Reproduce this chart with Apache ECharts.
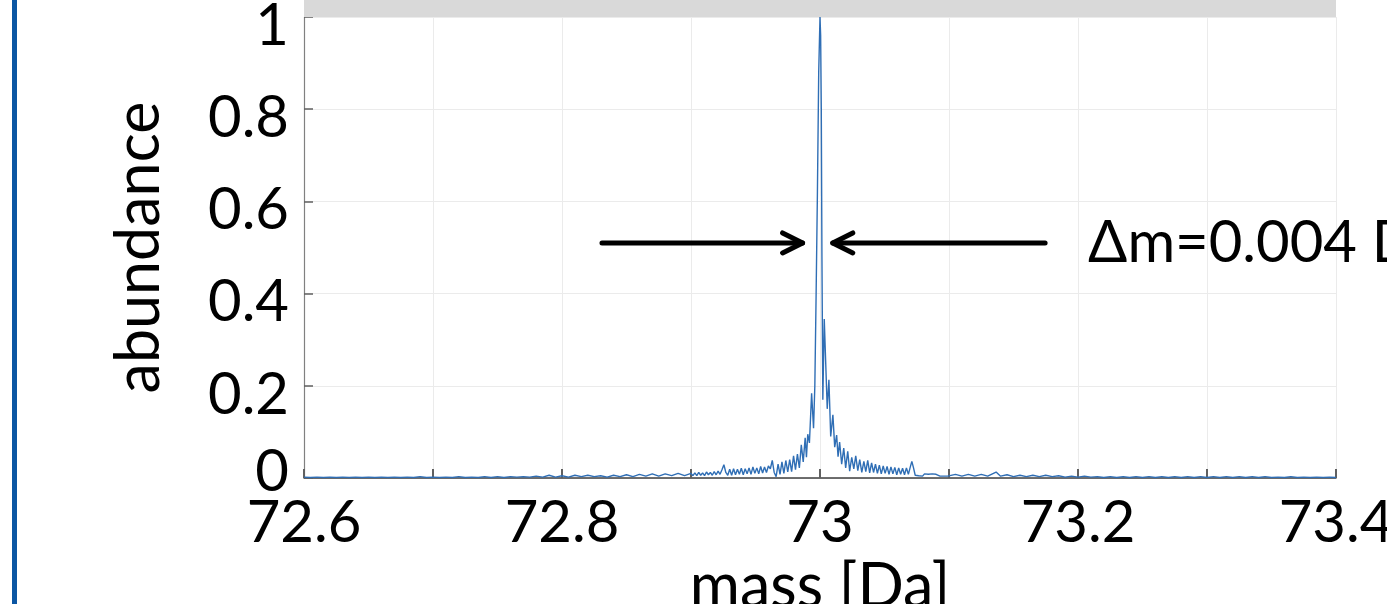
<!DOCTYPE html>
<html>
<head>
<meta charset="utf-8">
<script src="https://cdn.jsdelivr.net/npm/echarts@6/dist/echarts.min.js"></script>
<style>
  html, body { margin: 0; padding: 0; background: #ffffff; }
  #chart { width: 1387px; height: 604px; }
</style>
</head>
<body>
<div id="chart"></div>
<script>
// Mass spectrum around m/z 73: [mass (Da), normalised abundance]
const leftTail = [
  [72.600,0.002],[72.605,0.001],[72.610,0.002],[72.615,0.001],[72.620,0.002],[72.625,0.001],
  [72.630,0.002],[72.635,0.001],[72.640,0.002],[72.645,0.001],[72.650,0.002],[72.655,0.001],
  [72.660,0.002],[72.665,0.001],[72.670,0.002],[72.675,0.001],[72.680,0.002],[72.685,0.001],
  [72.690,0.003],[72.695,0.001],[72.700,0.002],[72.705,0.001],[72.710,0.002],[72.715,0.001],
  [72.720,0.003],[72.725,0.001],[72.730,0.002],[72.735,0.001],[72.740,0.003],[72.745,0.001],
  [72.750,0.003],[72.755,0.001],[72.760,0.003],[72.765,0.002],[72.770,0.003],[72.775,0.002],
  [72.780,0.004],[72.785,0.002],[72.790,0.006],[72.795,0.002],[72.800,0.005],[72.805,0.002],
  [72.810,0.006],[72.815,0.003],[72.820,0.006],[72.825,0.003],[72.830,0.005],[72.835,0.002],
  [72.840,0.006],[72.845,0.003],[72.850,0.007],[72.855,0.003],[72.860,0.008],[72.865,0.004],
  [72.870,0.009],[72.875,0.004],[72.880,0.009],[72.885,0.005],[72.890,0.010],[72.895,0.005]
];
const leftWing = [
  [72.9000,0.010],[72.9015,0.005],[72.9030,0.011],[72.9045,0.005],[72.9060,0.012],[72.9075,0.006],
  [72.9090,0.011],[72.9105,0.005],[72.9120,0.013],[72.9135,0.007],[72.9150,0.012],[72.9165,0.006],
  [72.9180,0.014],[72.9195,0.007],[72.9210,0.015],[72.9225,0.008],[72.9240,0.018],[72.9255,0.029],
  [72.9270,0.012],[72.9285,0.006],[72.9300,0.019],[72.9315,0.006],[72.9330,0.020],[72.9345,0.007],
  [72.9360,0.019],[72.9375,0.008],[72.9390,0.021],[72.9405,0.007],[72.9420,0.020],[72.9435,0.009],
  [72.9450,0.022],[72.9465,0.008],[72.9480,0.024],[72.9495,0.010],[72.9510,0.022],[72.9525,0.009],
  [72.9540,0.025],[72.9555,0.011],[72.9570,0.024],[72.9585,0.012],[72.9600,0.026],[72.9615,0.020],
  [72.9630,0.038],[72.9645,0.012],[72.9660,0.003],[72.9675,0.030],[72.9690,0.008],[72.9705,0.035],
  [72.9720,0.010],[72.9735,0.038],[72.9750,0.013],[72.9765,0.040],[72.9780,0.014],[72.9795,0.048],
  [72.9810,0.018],[72.9825,0.052],[72.9840,0.022],[72.9855,0.072],[72.9870,0.035],[72.9885,0.087],
  [72.9895,0.045],[72.9905,0.095],[72.9918,0.076],[72.9935,0.184],[72.9950,0.108]
];
const mainPeak = [
  [72.9960,0.20],[72.9970,0.40],[72.9980,0.62],[72.9990,0.88],[73.0000,1.00],
  [73.0005,0.96],[73.0010,0.80],[73.0015,0.48],[73.0022,0.17]
];
const rightWing = [
  [73.0033,0.345],[73.0056,0.150],[73.0069,0.213],[73.0083,0.090],[73.0100,0.137],[73.0114,0.067],
  [73.0129,0.093],[73.0140,0.046],[73.0152,0.078],[73.0168,0.030],[73.0184,0.065],[73.0199,0.022],
  [73.0215,0.058],[73.0230,0.015],[73.0246,0.045],[73.0262,0.020],[73.0277,0.048],[73.0293,0.016],
  [73.0308,0.040],[73.0324,0.012],[73.0340,0.036],[73.0355,0.014],[73.0370,0.038],[73.0385,0.011],
  [73.0400,0.033],[73.0415,0.012],[73.0430,0.030],[73.0445,0.010],[73.0460,0.028],[73.0475,0.009],
  [73.0490,0.026],[73.0505,0.010],[73.0520,0.025],[73.0535,0.008],[73.0550,0.024],[73.0565,0.009],
  [73.0580,0.023],[73.0595,0.007],[73.0610,0.022],[73.0625,0.008],[73.0640,0.021],[73.0655,0.007],
  [73.0670,0.022],[73.0685,0.008],[73.0700,0.024],[73.0712,0.036],[73.0725,0.022],[73.0738,0.006],
  [73.0750,0.009],[73.0765,0.005],[73.0780,0.008],[73.0795,0.004],[73.0810,0.009],[73.0825,0.005],
  [73.0840,0.008],[73.0855,0.004],[73.0870,0.009],[73.0885,0.005],[73.0900,0.008]
];
const rightTail = [
  [73.0915,0.009],[73.0930,0.004],[73.0945,0.008],[73.0960,0.004],[73.0975,0.008],[73.0990,0.004],
  [73.105,0.008],[73.110,0.004],[73.115,0.008],[73.120,0.004],[73.125,0.008],[73.130,0.004],
  [73.1365,0.013],[73.140,0.004],[73.145,0.007],[73.150,0.003],[73.155,0.006],[73.160,0.003],
  [73.165,0.006],[73.170,0.003],[73.175,0.006],[73.180,0.003],[73.185,0.005],[73.190,0.002],
  [73.195,0.004],[73.200,0.002],[73.205,0.004],[73.210,0.002],[73.215,0.003],[73.220,0.001],
  [73.225,0.003],[73.230,0.001],[73.235,0.003],[73.240,0.001],[73.245,0.003],[73.250,0.001],
  [73.255,0.003],[73.260,0.001],[73.265,0.003],[73.270,0.001],[73.275,0.003],[73.280,0.001],
  [73.285,0.003],[73.290,0.001],[73.295,0.003],[73.300,0.001],[73.305,0.003],[73.310,0.001],
  [73.315,0.003],[73.320,0.001],[73.325,0.003],[73.330,0.001],[73.335,0.003],[73.340,0.001],
  [73.345,0.003],[73.350,0.001],[73.355,0.002],[73.360,0.001],[73.365,0.003],[73.370,0.001],
  [73.375,0.002],[73.380,0.001],[73.385,0.002],[73.390,0.001],[73.395,0.002],[73.400,0.001]
];

// Axis ranges and labels
const massRange = [72.6, 73.4];
const massStep = 0.1;
const abundanceRange = [0, 1];
const abundanceStep = 0.2;

// Resolution annotation: arrows near half maximum, pointing at the peak flanks
const arrowLevel = 0.51;
const arrowTips = [72.9865, 73.0099];
const arrowTails = [72.8310, 73.1745];
const resolutionText = '\u0394m=0.004 Da';
const resolutionTextMass = 73.2078;

const FONT = 'Lato, "Noto Sans", sans-serif';
const FS = 58;
const NAME_FS = 61;
const GRID = { left: 304, right: 51, top: 17, bottom: 126 };

const spectrum = [].concat(leftTail, leftWing, mainPeak, rightWing, rightTail);

const chart = echarts.init(document.getElementById('chart'), null, { renderer: 'canvas' });

chart.setOption({
  animation: false,
  backgroundColor: '#ffffff',
  grid: { left: GRID.left, right: GRID.right, top: GRID.top, bottom: GRID.bottom, containLabel: false, outerBoundsMode: 'none' },
  graphic: [
    // panel accent bar on the far left
    { type: 'rect', shape: { x: 12, y: 0, width: 5, height: 604 }, style: { fill: '#0b56a3' }, z: 10 },
    // grey title strip above the plot area
    { type: 'rect', shape: { x: GRID.left, y: 0, width: 1387 - GRID.left - GRID.right, height: GRID.top }, style: { fill: '#d9d9d9' }, z: 10 }
  ],
  xAxis: {
    type: 'value',
    min: massRange[0], max: massRange[1], interval: massStep,
    name: 'mass [Da]', nameLocation: 'middle', nameGap: 72,
    nameTextStyle: { fontFamily: FONT, fontSize: NAME_FS, color: '#000' },
    axisLine: { show: true, onZero: false, lineStyle: { color: '#404040', width: 1.5 } },
    axisTick: { show: true, inside: true, length: 9, lineStyle: { color: '#606060', width: 2 } },
    splitLine: { show: true, lineStyle: { color: '#ebebeb', width: 1 } },
    axisLabel: {
      margin: 16, showMinLabel: true, showMaxLabel: true, hideOverlap: false,
      fontFamily: FONT, fontSize: FS, color: '#000',
      formatter: v => (Math.round(v * 10) % 2 === 0 ? String(+v.toFixed(1)) : '')
    }
  },
  yAxis: {
    type: 'value',
    min: abundanceRange[0], max: abundanceRange[1], interval: abundanceStep,
    name: 'abundance', nameLocation: 'middle', nameGap: 134, nameRotate: 90,
    nameTextStyle: { fontFamily: FONT, fontSize: NAME_FS, color: '#000' },
    axisLine: { show: true, lineStyle: { color: '#808080', width: 1.2 } },
    axisTick: { show: true, inside: true, length: 9, lineStyle: { color: '#606060', width: 1.5 } },
    splitLine: { show: true, lineStyle: { color: '#ebebeb', width: 1 } },
    axisLabel: {
      margin: 15, showMinLabel: true, showMaxLabel: true,
      formatter: v => (v === 0 ? '{lo|0}' : '{hi|' + String(+v.toFixed(1)) + '}'),
      rich: {
        hi: { fontFamily: FONT, fontSize: FS, color: '#000', padding: [18, 0, 0, 0] },
        lo: { fontFamily: FONT, fontSize: FS, color: '#000', padding: [0, 0, 12, 0] }
      }
    }
  },
  series: [
    {
      type: 'line',
      data: spectrum,
      showSymbol: false,
      symbol: 'none',
      smooth: false,
      sampling: null,
      lineStyle: { color: '#2f6eb5', width: 1.4 },
      z: 3
    },
    {
      type: 'custom',
      data: arrowTips.map((tip, i) => [tip, arrowTails[i], arrowLevel]),
      z: 5,
      renderItem: function (params, api) {
        const tip = api.coord([api.value(0), api.value(2)]);
        const tail = api.coord([api.value(1), api.value(2)]);
        const dir = tip[0] > tail[0] ? 1 : -1;
        const stroke = { stroke: '#000', lineWidth: 5, lineCap: 'round', lineJoin: 'round', fill: null };
        return {
          type: 'group',
          children: [
            { type: 'line', shape: { x1: tail[0], y1: tail[1], x2: tip[0], y2: tip[1] }, style: stroke },
            { type: 'polyline', shape: { points: [[tip[0] - dir * 20, tip[1] - 10], [tip[0], tip[1]], [tip[0] - dir * 20, tip[1] + 10]] }, style: stroke }
          ]
        };
      }
    },
    {
      type: 'custom',
      data: [[resolutionTextMass, arrowLevel]],
      z: 5,
      renderItem: function (params, api) {
        const p = api.coord([api.value(0), api.value(1)]);
        return {
          type: 'text',
          x: p[0], y: p[1],
          style: { text: resolutionText, fontFamily: FONT, fontSize: FS, fill: '#000', align: 'left', verticalAlign: 'middle' }
        };
      }
    }
  ]
});
</script>
</body>
</html>
